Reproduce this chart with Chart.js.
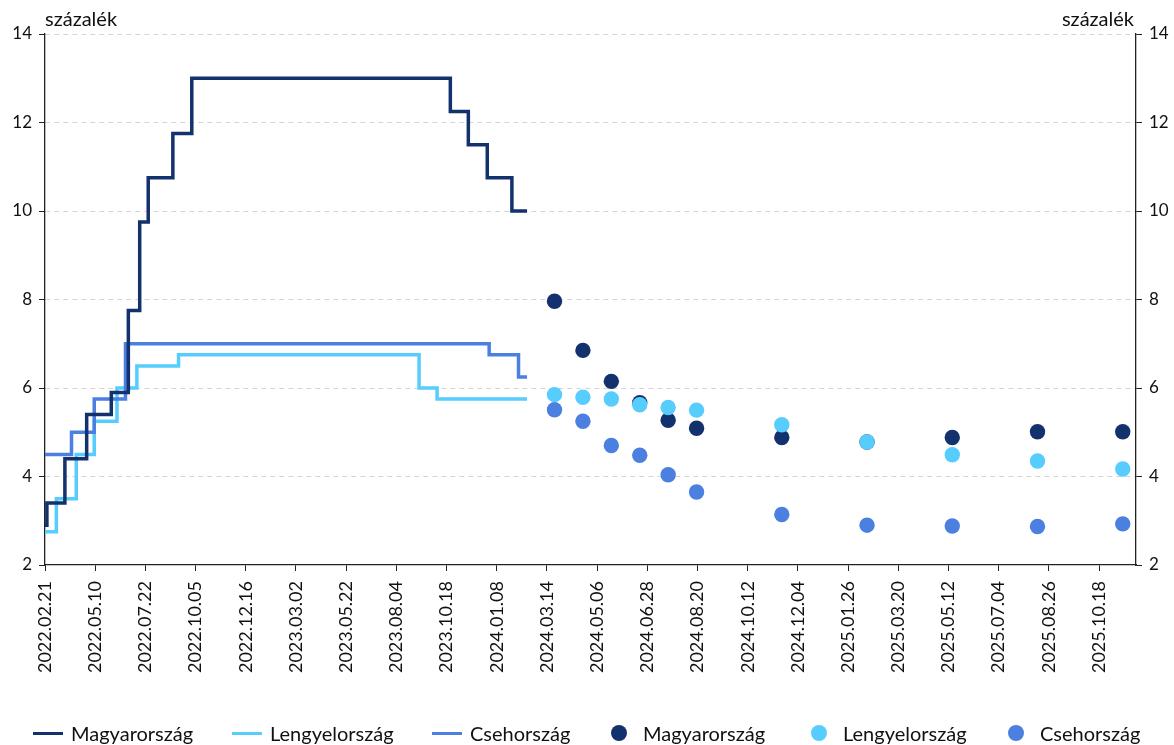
<!DOCTYPE html>
<html>
<head>
<meta charset="utf-8">
<script src="https://cdn.jsdelivr.net/npm/chart.js@4.4.1/dist/chart.umd.min.js"></script>
<style>
  body { margin: 0; background: #fff; }
  #wrap { position: relative; width: 1174px; height: 745px; font-family: Lato, "Open Sans", sans-serif; }
  #legend { position: absolute; left: 0; top: 721px; width: 1174px; height: 24px; }
  .item { position: absolute; top: 0; height: 24px; display: flex; align-items: center; font-size: 20px; color: #111; white-space: nowrap; }
  .line { width: 30px; height: 3px; margin-right: 8px; }
  .dot { width: 16px; height: 16px; border-radius: 50%; margin-right: 16px; }
</style>
</head>
<body>
<div id="wrap">
  <canvas id="chart" width="1174" height="745"></canvas>
  <div id="legend"></div>
</div>
<script>
// x values are positions on the original category axis (53 categories per tick label)
const tickLabels = [
  "2022.02.21", "2022.05.10", "2022.07.22", "2022.10.05", "2022.12.16", "2023.03.02",
  "2023.05.22", "2023.08.04", "2023.10.18", "2024.01.08", "2024.03.14", "2024.05.06",
  "2024.06.28", "2024.08.20", "2024.10.12", "2024.12.04", "2025.01.26", "2025.03.20",
  "2025.05.12", "2025.07.04", "2025.08.26", "2025.10.18"
];
const tickStep = 53;
const xMax = 1152;

// policy rates (step lines): category where the rate changes, new rate
const huStepIdx = [0, 2, 21, 44, 70, 88, 100, 109, 135, 155, 428, 447, 467, 493, 509];
const huStepVal = [2.9, 3.4, 4.4, 5.4, 5.9, 7.75, 9.75, 10.75, 11.75, 13, 12.25, 11.5, 10.75, 10, 10];
const plStepIdx = [0, 12, 33, 52, 76, 97, 141, 395, 414, 509];
const plStepVal = [2.75, 3.5, 4.5, 5.25, 6, 6.5, 6.75, 6, 5.75, 5.75];
const czStepIdx = [0, 28, 52, 85, 469, 500, 509];
const czStepVal = [4.5, 5, 5.75, 7, 6.75, 6.25, 6.25];

// market expectations (dots)
const fcIdx = [538, 568, 598, 628, 658, 688, 778, 868, 958, 1048, 1138];
const huFc = [7.96, 6.85, 6.15, 5.67, 5.27, 5.09, 4.88, 4.78, 4.88, 5.01, 5.01];
const plFc = [5.85, 5.79, 5.75, 5.62, 5.56, 5.5, 5.17, 4.78, 4.49, 4.35, 4.17];
const czFc = [5.51, 5.25, 4.7, 4.48, 4.04, 3.65, 3.14, 2.9, 2.88, 2.87, 2.93];

const countries = ["Magyarország", "Lengyelország", "Csehország"];
const colors = ["#13316d", "#56cdfd", "#4b7fe0"];
const unitLabel = "százalék";

const FONT = "Lato, 'Open Sans', sans-serif";
const TEXT = "#111";
const AXIS = "#222";

const pts = (xs, ys) => xs.map((x, i) => ({ x, y: ys[i] }));

const stepSet = (i, xs, ys, order) => ({
  label: countries[i],
  data: pts(xs, ys),
  showLine: true,
  stepped: true,
  borderColor: colors[i],
  borderWidth: 3.5,
  pointRadius: 0,
  fill: false,
  order,
});

const dotSet = (i, ys, order) => ({
  label: countries[i],
  data: pts(fcIdx, ys),
  showLine: false,
  backgroundColor: colors[i],
  borderWidth: 0,
  pointRadius: 7.7,
  order,
});

const unitTitles = {
  id: "unitTitles",
  afterDraw(chart) {
    const { ctx, chartArea } = chart;
    ctx.save();
    ctx.font = "20px " + FONT;
    ctx.fillStyle = TEXT;
    ctx.textBaseline = "alphabetic";
    ctx.textAlign = "left";
    ctx.fillText(unitLabel, chartArea.left, 26);
    ctx.textAlign = "right";
    ctx.fillText(unitLabel, chartArea.right - 2, 26);
    ctx.restore();
  },
};

const yScale = (position, width) => ({
  position,
  min: 2,
  max: 14,
  afterFit: (s) => { s.width = width; },
  ticks: { stepSize: 2, padding: 7, color: TEXT, font: { family: FONT, size: 17 } },
  grid: {
    drawOnChartArea: position === "left",
    color: (c) => (c.tick && c.tick.value === 2 ? "rgba(0,0,0,0)" : "#d4d4d4"),
    tickColor: AXIS,
    tickLength: 6,
    lineWidth: 1,
  },
  border: { display: true, color: AXIS, width: 1.3, dash: [5, 4] },
});

new Chart(document.getElementById("chart"), {
  type: "scatter",
  data: {
    datasets: [
      dotSet(2, czFc, 1),
      dotSet(1, plFc, 2),
      dotSet(0, huFc, 3),
      stepSet(0, huStepIdx, huStepVal, 4),
      stepSet(2, czStepIdx, czStepVal, 5),
      stepSet(1, plStepIdx, plStepVal, 6),
    ],
  },
  options: {
    responsive: false,
    animation: false,
    events: [],
    layout: { padding: { top: 34, left: 0, right: 0, bottom: 0 } },
    plugins: { legend: { display: false }, tooltip: { enabled: false } },
    scales: {
      x: {
        type: "linear",
        min: 0,
        max: xMax,
        afterFit: (s) => { s.height = 180; },
        afterBuildTicks: (s) => {
          s.ticks = tickLabels.map((_, i) => ({ value: i * tickStep }));
        },
        ticks: {
          autoSkip: false,
          minRotation: 90,
          maxRotation: 90,
          padding: 10,
          color: TEXT,
          font: { family: FONT, size: 18 },
          callback: (v) => tickLabels[Math.round(v / tickStep)],
        },
        grid: { drawOnChartArea: false, tickColor: AXIS, tickLength: 6 },
        border: { display: true, color: AXIS, width: 1.3 },
      },
      y: yScale("left", 45),
      y2: yScale("right", 38),
    },
  },
  plugins: [unitTitles],
});

// legend
const legend = document.getElementById("legend");
const legendLeft = [33, 232, 432, 611, 811, 1008];
legendLeft.forEach((left, k) => {
  const i = k % 3;
  const item = document.createElement("div");
  item.className = "item";
  item.style.left = left + "px";
  const mark = document.createElement("span");
  mark.className = k < 3 ? "line" : "dot";
  mark.style.background = colors[i];
  const txt = document.createElement("span");
  txt.textContent = countries[i];
  item.appendChild(mark);
  item.appendChild(txt);
  legend.appendChild(item);
});
</script>
</body>
</html>
